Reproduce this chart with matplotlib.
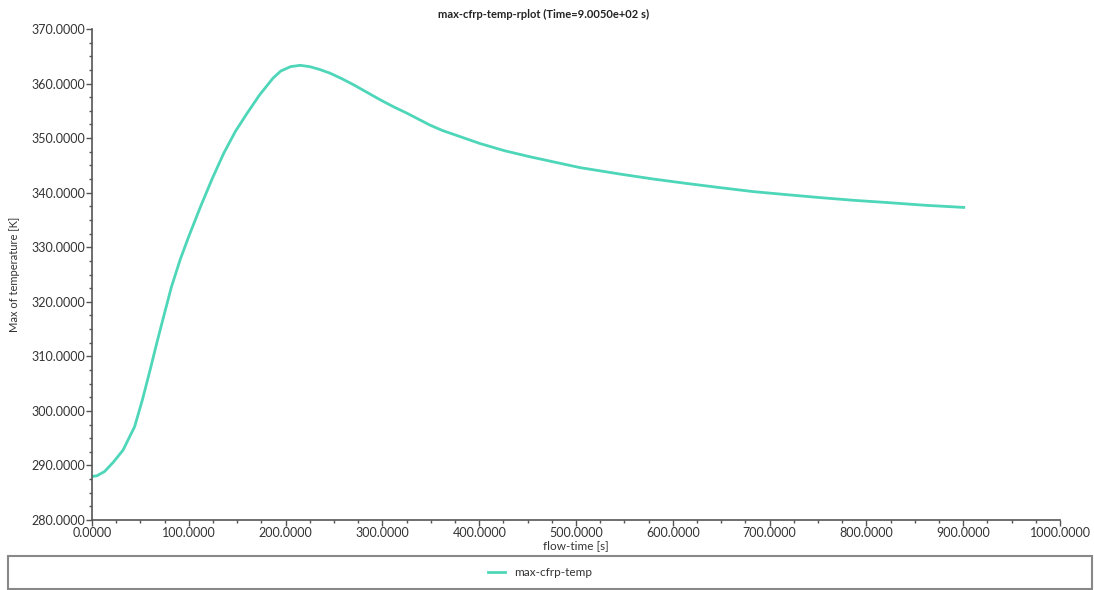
import matplotlib
matplotlib.use('Agg')
import matplotlib.pyplot as plt
from matplotlib.ticker import MultipleLocator, FormatStrFormatter
from matplotlib.patches import Rectangle

plt.rcParams['font.family'] = ['Lato', 'DejaVu Sans']

# Data
flow_time = [0, 5, 13, 22, 32, 44, 52, 60, 67, 74, 82, 91, 100, 112, 124,
             136, 148, 160, 173, 187, 195, 205, 215, 225, 235, 246, 258, 270,
             284, 298, 312, 325, 337, 349, 362, 375, 388, 401, 426, 452, 478,
             504, 546, 580, 614, 650, 683, 720, 752, 787, 821, 860, 900.5]
max_temp = [288.0, 288.1, 288.9, 290.6, 292.8, 297.1, 302.0, 307.5, 312.5,
            317.3, 322.7, 327.7, 332.0, 337.4, 342.5, 347.2, 351.2, 354.5,
            357.9, 361.0, 362.3, 363.1, 363.35, 363.1, 362.6, 361.9, 360.9,
            359.8, 358.4, 357.0, 355.7, 354.6, 353.5, 352.4, 351.4, 350.6,
            349.8, 349.0, 347.7, 346.6, 345.6, 344.6, 343.4, 342.5, 341.7,
            340.9, 340.2, 339.6, 339.1, 338.6, 338.2, 337.7, 337.3]

line_color = '#4ed6b9'
axis_color = '#555555'
text_color = '#333333'

fig = plt.figure(figsize=(10.94, 5.90), dpi=100)
ax = fig.add_axes([0.0841, 0.1186, 0.8849, 0.8322])

ax.plot(flow_time, max_temp, color=line_color, lw=2.0, label='max-cfrp-temp',
        solid_joinstyle='round')

ax.set_xlim(0, 1000)
ax.set_ylim(280, 370)
ax.xaxis.set_major_locator(MultipleLocator(100))
ax.xaxis.set_minor_locator(MultipleLocator(25))
ax.yaxis.set_major_locator(MultipleLocator(10))
ax.yaxis.set_minor_locator(MultipleLocator(2.5))
ax.xaxis.set_major_formatter(FormatStrFormatter('%.4f'))
ax.yaxis.set_major_formatter(FormatStrFormatter('%.4f'))

for s in ['top', 'right']:
    ax.spines[s].set_visible(False)
for s in ['left', 'bottom']:
    ax.spines[s].set_color(axis_color)
    ax.spines[s].set_linewidth(1.2)

ax.tick_params(which='major', length=4, width=1, color=axis_color,
               labelsize=9, labelcolor=text_color, pad=1)
ax.tick_params(which='minor', length=2.5, width=1, color=axis_color)

ax.set_xlabel('flow-time [s]', fontsize=8.5, color=text_color, labelpad=1)
ax.set_ylabel('Max of temperature [K]', fontsize=8, color=text_color, labelpad=8)
fig.text(0.497, 0.976, 'max-cfrp-temp-rplot (Time=9.0050e+02 s)', ha='center',
         va='center', fontsize=8, fontweight='bold', color='#222222')

# Legend box below the axes
fig.patches.append(Rectangle((8 / 1094, 1 - 589 / 590), 1084 / 1094, 33 / 590,
                             transform=fig.transFigure, fill=False,
                             edgecolor='#888888', lw=1.5))
fig.legend(loc='center', bbox_to_anchor=(0.494, 1 - 573 / 590), frameon=False,
           fontsize=8.5, handlelength=1.4, labelcolor=text_color)

fig.savefig('out.png', dpi=100)
